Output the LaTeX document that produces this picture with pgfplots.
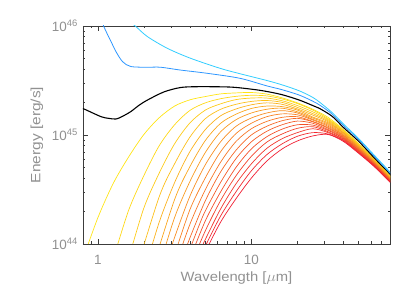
\documentclass[border=0pt]{standalone}
\usepackage{fontspec}
\setmainfont{Liberation Sans}
\usepackage{graphicx}
\usepackage{pgfplots}
\pgfplotsset{compat=1.18}
\definecolor{txt}{RGB}{145,145,145}
\definecolor{cY}{RGB}{255,228,20}
\definecolor{cR}{RGB}{240,30,50}
\definecolor{cCyan}{RGB}{50,205,255}
\definecolor{cBlue}{RGB}{45,150,255}
\definecolor{frame}{RGB}{60,60,60}
\begin{document}
\begin{tikzpicture}
\path (-83bp,-53bp) rectangle (332bp,244bp);
\begin{axis}[
  at={(0,0)}, anchor=south west,
  scale only axis, width=307bp, height=218bp,
  xmode=log, ymode=log,
  xmin=0.8, xmax=80, ymin=1e44, ymax=1e46,
  xtick={1,10}, xticklabels={1,10},
  minor xtick={0.8,0.9,2,3,4,5,6,7,8,9,20,30,40,50,60,70,80},
  ytick={1e44,1e45,1e46},
  yticklabels={10\textsuperscript{44},10\textsuperscript{45},10\textsuperscript{46}},
  minor ytick={},
  tick align=inside,
  major tick length=5bp, minor tick length=2.5bp,
  axis line style={frame, line width=0.8pt},
  every tick/.style={frame, line width=0.6pt},
  tick label style={font=\fontsize{13.5}{14}\selectfont, text=txt, inner sep=0pt},
  xticklabel style={yshift=-11bp},
  yticklabel style={xshift=-5bp},
  xlabel={\scalebox{1.1}[1]{Wavelength [$\mu$m]}},
  ylabel={\scalebox{1.15}[1]{Energy [erg/s]}},
  every axis x label/.style={at={(axis description cs:0.5,-0.1743)}, anchor=base, font=\fontsize{13.5}{14}\selectfont, text=txt},
  every axis y label/.style={at={(axis description cs:-0.1498,0.5)}, anchor=center, rotate=90, font=\fontsize{13.5}{14}\selectfont, text=txt},
  every axis plot/.append style={line width=0.7pt, smooth, tension=0.5, line join=round},
]
% yellow -> red family
\addplot[color=cR!0!cY] coordinates {(0.794,7.08e43) (1,1.74e44) (1.259,3.59e44) (1.585,6.27e44) (1.995,1.01e45) (2.512,1.44e45) (3.162,1.84e45) (3.981,2.10e45) (5.012,2.25e45) (6.31,2.38e45) (7.943,2.43e45) (10,2.45e45) (12.59,2.37e45) (15.85,2.19e45) (19.95,1.97e45) (25.12,1.72e45) (31.62,1.45e45) (39.81,1.12e45) (50.12,8.32e44) (63.1,6.03e44) (79.43,4.27e44) (89.13,3.55e44)};
\addplot[color=cR!6.25!cY] coordinates {(1.259,7.24e43) (1.585,2.03e44) (1.995,4.24e44) (2.512,7.98e44) (3.162,1.24e45) (3.981,1.68e45) (5.012,1.97e45) (6.31,2.15e45) (7.943,2.26e45) (10,2.31e45) (12.59,2.28e45) (15.85,2.14e45) (19.95,1.94e45) (25.12,1.69e45) (31.62,1.41e45) (39.81,1.10e45) (50.12,8.20e44) (63.1,5.97e44) (79.43,4.23e44) (89.13,3.52e44)};
\addplot[color=cR!12.5!cY] coordinates {(1.585,7.33e43) (1.995,2.14e44) (2.512,4.48e44) (3.162,8.30e44) (3.981,1.29e45) (5.012,1.69e45) (6.31,1.93e45) (7.943,2.11e45) (10,2.18e45) (12.59,2.18e45) (15.85,2.06e45) (19.95,1.86e45) (25.12,1.63e45) (31.62,1.38e45) (39.81,1.09e45) (50.12,8.11e44) (63.1,5.90e44) (79.43,4.20e44) (89.13,3.50e44)};
\addplot[color=cR!18.75!cY] coordinates {(1.778,5.75e43) (2.512,2.72e44) (3.162,5.44e44) (3.981,9.57e44) (5.012,1.41e45) (6.31,1.72e45) (7.943,1.91e45) (10,2.03e45) (12.59,2.07e45) (15.85,1.99e45) (19.95,1.79e45) (25.12,1.57e45) (31.62,1.35e45) (39.81,1.07e45) (50.12,8.00e44) (63.1,5.85e44) (79.43,4.16e44) (89.13,3.48e44)};
\addplot[color=cR!25!cY] coordinates {(1.995,5.41e43) (2.512,1.59e44) (3.162,3.66e44) (3.981,7.05e44) (5.012,1.12e45) (6.31,1.50e45) (7.943,1.73e45) (10,1.89e45) (12.59,1.97e45) (15.85,1.91e45) (19.95,1.73e45) (25.12,1.52e45) (31.62,1.32e45) (39.81,1.05e45) (50.12,7.91e44) (63.1,5.79e44) (79.43,4.12e44) (89.13,3.45e44)};
\addplot[color=cR!31.25!cY] coordinates {(2.239,5.62e43) (3.162,2.56e44) (3.981,5.13e44) (5.012,8.89e44) (6.31,1.28e45) (7.943,1.55e45) (10,1.75e45) (12.59,1.84e45) (15.85,1.82e45) (19.95,1.69e45) (25.12,1.46e45) (31.62,1.29e45) (39.81,1.04e45) (50.12,7.80e44) (63.1,5.73e44) (79.43,4.08e44) (89.13,3.42e44)};
\addplot[color=cR!37.5!cY] coordinates {(2.512,6.17e43) (3.162,1.75e44) (3.981,3.75e44) (5.012,6.90e44) (6.31,1.07e45) (7.943,1.38e45) (10,1.59e45) (12.59,1.72e45) (15.85,1.76e45) (19.95,1.63e45) (25.12,1.43e45) (31.62,1.26e45) (39.81,1.02e45) (50.12,7.69e44) (63.1,5.68e44) (79.43,4.06e44) (89.13,3.40e44)};
\addplot[color=cR!43.75!cY] coordinates {(2.818,6.92e43) (3.162,1.15e44) (3.981,2.75e44) (5.012,5.33e44) (6.31,8.67e44) (7.943,1.20e45) (10,1.43e45) (12.59,1.59e45) (15.85,1.67e45) (19.95,1.59e45) (25.12,1.39e45) (31.62,1.23e45) (39.81,1.00e45) (50.12,7.60e44) (63.1,5.61e44) (79.43,4.02e44) (89.13,3.37e44)};
\addplot[color=cR!50!cY] coordinates {(3.162,7.94e43) (3.981,2.07e44) (5.012,4.04e44) (6.31,7.03e44) (7.943,1.03e45) (10,1.28e45) (12.59,1.47e45) (15.85,1.56e45) (19.95,1.53e45) (25.12,1.37e45) (31.62,1.20e45) (39.81,9.89e44) (50.12,7.50e44) (63.1,5.56e44) (79.43,3.98e44) (89.13,3.35e44)};
\addplot[color=cR!56.25!cY] coordinates {(3.162,6.03e43) (3.981,1.52e44) (5.012,3.15e44) (6.31,5.64e44) (7.943,8.71e44) (10,1.14e45) (12.59,1.33e45) (15.85,1.45e45) (19.95,1.47e45) (25.12,1.33e45) (31.62,1.17e45) (39.81,9.73e44) (50.12,7.40e44) (63.1,5.51e44) (79.43,3.94e44) (89.13,3.33e44)};
\addplot[color=cR!62.5!cY] coordinates {(3.548,7.33e43) (3.981,1.14e44) (5.012,2.49e44) (6.31,4.59e44) (7.943,7.24e44) (10,1.00e45) (12.59,1.20e45) (15.85,1.35e45) (19.95,1.42e45) (25.12,1.32e45) (31.62,1.15e45) (39.81,9.57e44) (50.12,7.31e44) (63.1,5.45e44) (79.43,3.92e44) (89.13,3.30e44)};
\addplot[color=cR!68.75!cY] coordinates {(3.548,5.89e43) (4.467,1.37e44) (5.012,2.01e44) (6.31,3.68e44) (7.943,6.07e44) (10,8.65e44) (12.59,1.08e45) (15.85,1.24e45) (19.95,1.34e45) (25.12,1.28e45) (31.62,1.12e45) (39.81,9.42e44) (50.12,7.21e44) (63.1,5.40e44) (79.43,3.88e44) (89.13,3.28e44)};
\addplot[color=cR!75!cY] coordinates {(3.981,7.31e43) (5.012,1.63e44) (6.31,3.01e44) (7.943,5.04e44) (10,7.45e44) (12.59,9.62e44) (15.85,1.13e45) (19.95,1.24e45) (25.12,1.23e45) (31.62,1.10e45) (39.81,9.29e44) (50.12,7.13e44) (63.1,5.35e44) (79.43,3.85e44) (89.13,3.26e44)};
\addplot[color=cR!81.25!cY] coordinates {(3.981,6.17e43) (5.012,1.32e44) (6.31,2.51e44) (7.943,4.22e44) (10,6.37e44) (12.59,8.59e44) (15.85,1.02e45) (19.95,1.15e45) (25.12,1.19e45) (31.62,1.07e45) (39.81,9.14e44) (50.12,7.03e44) (63.1,5.28e44) (79.43,3.81e44) (89.13,3.23e44)};
\addplot[color=cR!87.5!cY] coordinates {(4.467,7.73e43) (5.012,1.10e44) (6.31,2.10e44) (7.943,3.56e44) (10,5.43e44) (12.59,7.52e44) (15.85,9.23e44) (19.95,1.05e45) (25.12,1.14e45) (31.62,1.05e45) (39.81,8.99e44) (50.12,6.93e44) (63.1,5.24e44) (79.43,3.78e44) (89.13,3.21e44)};
\addplot[color=cR!93.75!cY] coordinates {(4.467,6.82e43) (5.012,9.55e43) (6.31,1.81e44) (7.943,3.01e44) (10,4.69e44) (12.59,6.58e44) (15.85,8.28e44) (19.95,9.72e44) (25.12,1.05e45) (31.62,1.02e45) (39.81,8.85e44) (50.12,6.85e44) (63.1,5.18e44) (79.43,3.75e44) (89.13,3.18e44)};
\addplot[color=cR] coordinates {(5.012,8.51e43) (6.31,1.59e44) (7.943,2.60e44) (10,4.02e44) (12.59,5.75e44) (15.85,7.43e44) (19.95,8.81e44) (25.12,9.79e44) (31.62,1.01e45) (39.81,8.71e44) (50.12,6.76e44) (63.1,5.13e44) (79.43,3.72e44) (89.13,3.16e44)};
% black
\addplot[color=black, line width=1.1pt] coordinates {(0.794,1.74e45) (0.820,1.72e45) (1.05,1.47e45) (1.175,1.42e45) (1.312,1.40e45) (1.445,1.48e45) (1.641,1.64e45) (1.862,1.88e45) (2.104,2.09e45) (2.692,2.48e45) (3.443,2.72e45) (4.416,2.77e45) (7.244,2.75e45) (10,2.63e45) (12.5,2.51e45) (15.85,2.34e45) (20.51,2.09e45) (25.12,1.86e45) (27.61,1.76e45) (33.65,1.48e45) (39.81,1.17e45) (50.12,8.71e44) (63.1,6.17e44) (79.43,4.42e44) (89.13,3.63e44)};
% blue
\addplot[color=cBlue, line width=0.8pt] coordinates {(1,1.41e46) (1.094,9.86e45) (1.219,7.18e45) (1.312,5.81e45) (1.449,4.70e45) (1.641,4.24e45) (2.104,4.18e45) (2.559,4.18e45) (3.443,3.94e45) (5.129,3.68e45) (8.414,3.31e45) (12.59,2.82e45) (15.85,2.60e45) (20.51,2.32e45) (25.12,2.04e45) (28.18,1.86e45) (33.65,1.55e45) (39.81,1.22e45) (50.12,9.02e44) (63.1,6.38e44) (79.43,4.52e44) (89.13,3.72e44)};
% cyan
\addplot[color=cCyan, line width=0.8pt] coordinates {(1.585,1.12e46) (1.770,9.86e45) (2.104,7.98e45) (2.831,6.24e45) (4.000,5.06e45) (6.237,4.09e45) (8.204,3.68e45) (12.59,3.16e45) (15.85,2.88e45) (20.51,2.54e45) (25.12,2.21e45) (28.18,1.97e45) (33.65,1.60e45) (39.81,1.26e45) (50.12,9.23e44) (63.1,6.53e44) (79.43,4.62e44) (89.13,3.80e44)};
\end{axis}
\end{tikzpicture}
\end{document}
